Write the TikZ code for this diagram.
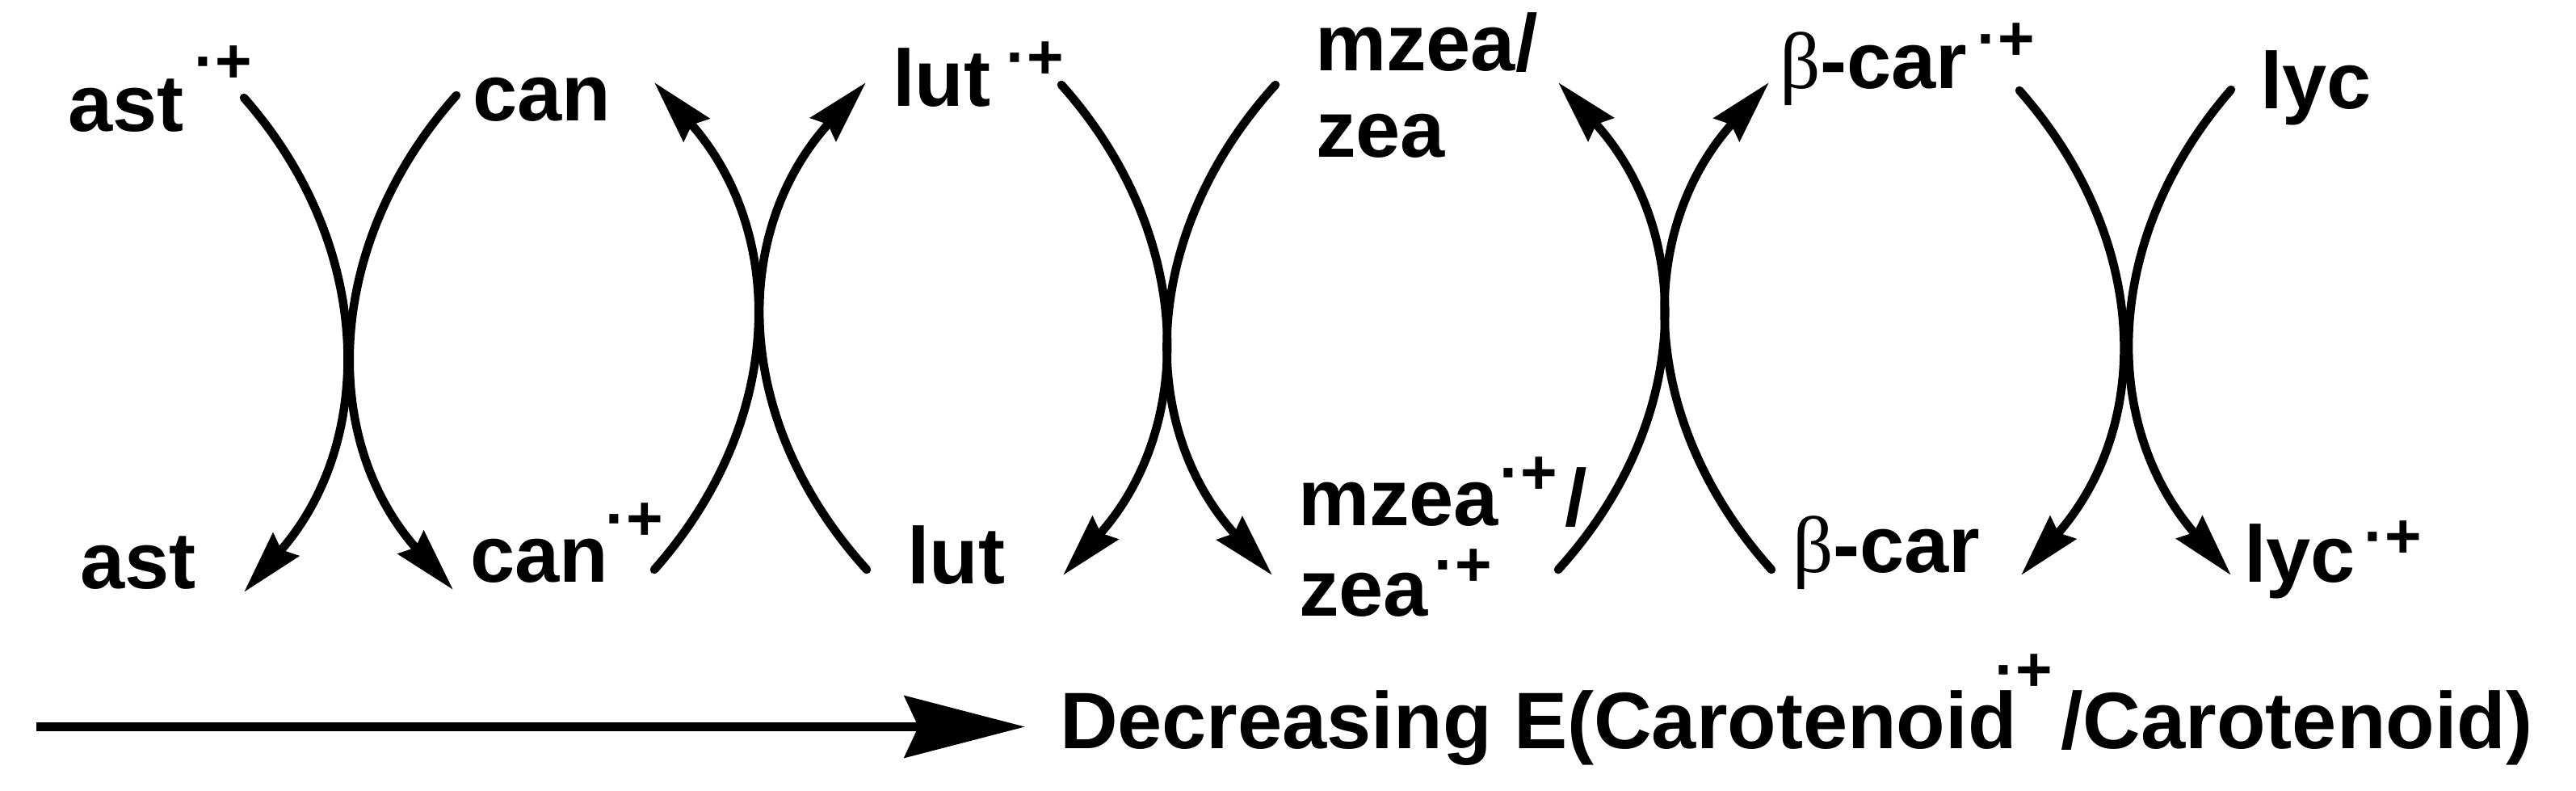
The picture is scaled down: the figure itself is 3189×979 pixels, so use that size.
\documentclass[tikz,border=0pt]{standalone}
\usepackage{fontspec}
\setmainfont{Liberation Sans}
\newfontfamily\grk{Liberation Serif}
\usetikzlibrary{arrows.meta}
\newdimen\pxu \pxu=0.01cm
\newcommand\rad[2]{\hspace{#1\pxu}\raisebox{#2\pxu}{\fontsize{22.2}{22}\selectfont\bfseries ·+}}
\newcommand\bet{{\grk\mdseries β}}
\begin{document}
\begin{tikzpicture}[x=0.01cm,y=-0.01cm,
  lbl/.style={anchor=base west,inner sep=0,outer sep=0,font=\fontsize{28.2}{33}\selectfont\bfseries},
  arc/.style={line width=0.105cm, line cap=round, -{Stealth[length=0.78cm,width=0.42cm,inset=0.08cm]}},
  big/.style={line width=0.11cm, -{Stealth[length=1.49cm,width=0.76cm,inset=0.17cm]}}]
\useasboundingbox (0,0) rectangle (3189,979);

% top row labels
\node[lbl] (astc) at (84,163) {ast\rad{13}{61}};
\node[lbl] (can) at (585,150) {can};
\node[lbl] (lutc) at (1105,132) {lut\rad{19}{34}};
\node[lbl] (mzea) at (1628,88) {mzea/};
\node[lbl] (zea) at (1629,195) {zea};
\node[lbl] (bcarc) at (2203,110) {\bet-car\rad{12}{35}};
\node[lbl] (lyc) at (2798,135) {lyc};

% bottom row labels
\node[lbl] (ast) at (99,728) {ast};
\node[lbl] (canc) at (582,720) {can\rad{-3}{52}};
\node[lbl] (lut) at (1123,722) {lut};
\node[lbl] (mzeac) at (1607,650) {mzea\rad{1}{39}\hspace{10\pxu}/};
\node[lbl] (zeac) at (1608,762) {zea\rad{8}{37}};
\node[lbl] (bcar) at (2219,708) {\bet-car};
\node[lbl] (lycc) at (2778,720) {lyc\rad{11}{30}};

% arc arrows
\coordinate (a1s) at (302,121);  \coordinate (a1e) at (302,733);
\coordinate (a2s) at (565,118);  \coordinate (a2e) at (561,730);
\coordinate (a3s) at (810,705);  \coordinate (a3e) at (810,102);
\coordinate (a4s) at (1073,705); \coordinate (a4e) at (1072,102);
\coordinate (a5s) at (1314,105); \coordinate (a5e) at (1316,712);
\coordinate (a6s) at (1579,105); \coordinate (a6e) at (1575,712);
\coordinate (a7s) at (1929,705); \coordinate (a7e) at (1929,102);
\coordinate (a8s) at (2193,705); \coordinate (a8e) at (2190,102);
\coordinate (a9s) at (2500,112); \coordinate (a9e) at (2502,712);
\coordinate (a10s) at (2762,111); \coordinate (a10e) at (2762,712);

\draw[arc] (a1s) .. controls +(163,185) and +(163,-185) .. (a1e);
\draw[arc] (a2s) .. controls +(-165,185) and +(-165,-185) .. (a2e);
\draw[arc] (a3s) .. controls +(164,-185) and +(164,185) .. (a3e);
\draw[arc] (a4s) .. controls +(-168,-185) and +(-168,185) .. (a4e);
\draw[arc] (a5s) .. controls +(165,185) and +(165,-185) .. (a5e);
\draw[arc] (a6s) .. controls +(-168,185) and +(-168,-185) .. (a6e);
\draw[arc] (a7s) .. controls +(168,-185) and +(168,185) .. (a7e);
\draw[arc] (a8s) .. controls +(-166,-185) and +(-166,185) .. (a8e);
\draw[arc] (a9s) .. controls +(163,185) and +(163,-185) .. (a9e);
\draw[arc] (a10s) .. controls +(-161,185) and +(-161,-185) .. (a10e);

% bottom arrow and caption
\node[lbl] (cap) at (1312,926) {Decreasing E(Carotenoid\rad{-27}{71}\hspace{10\pxu}/Carotenoid)};
\coordinate (bs) at (45,899.5);
\coordinate (be) at (1269,899.5);
\draw[big] (bs) -- (be);
\end{tikzpicture}
\end{document}
